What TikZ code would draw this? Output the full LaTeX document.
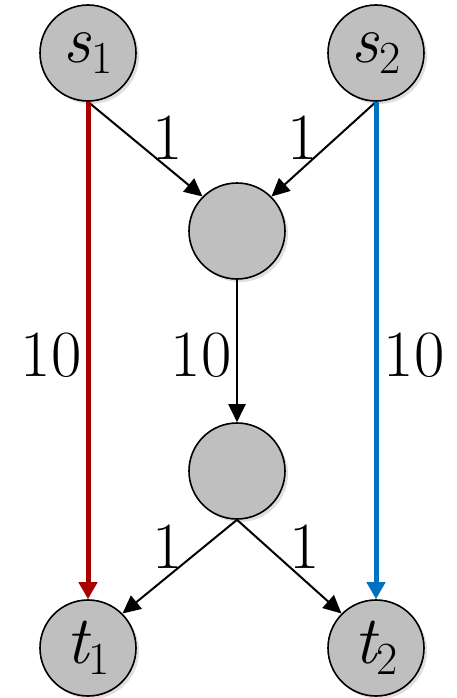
\documentclass[tikz,border=0pt]{standalone}
\usetikzlibrary{arrows.meta,shadows}
\definecolor{nodegray}{RGB}{191,191,191}
\definecolor{redpath}{RGB}{168,0,0}
\definecolor{bluepath}{RGB}{0,112,192}
\newcommand{\vlab}[2]{{\fontsize{68}{68}\selectfont\itshape #1}\raisebox{-11pt}{\fontsize{46}{46}\selectfont #2}}
\tikzset{
  vertex/.style={circle,draw=black,line width=1.6pt,fill=nodegray,minimum size=96pt,inner sep=0pt,
    drop shadow={shadow xshift=3pt,shadow yshift=-3pt,opacity=0.25}},
  lbl/.style={inner sep=0pt,font=\fontsize{66}{66}\selectfont},
  edge/.style={line width=2pt,-{Triangle[length=18pt,width=17pt]}},
  thick path/.style={line width=5pt,-{Triangle[length=17pt,width=18pt]}}
}
\begin{document}
\begin{tikzpicture}[x=1pt,y=-1pt]
\useasboundingbox (0,0) rectangle (456,698);
\node[vertex] (s1) at (88,53) {\vlab{s}{1}};
\node[vertex] (s2) at (376,53) {\vlab{s}{2}};
\node[vertex] (m1) at (237,231) {};
\node[vertex] (m2) at (237,471) {};
\node[vertex] (t1) at (88,648) {\vlab{t}{1}};
\node[vertex] (t2) at (376,648) {\vlab{t}{2}};
\draw[edge] (s1.south) -- (m1.135);
\draw[edge] (s2.south) -- (m1.45);
\draw[edge] (m1.south) -- (m2.north);
\draw[edge] (m2.south) -- (t1.45);
\draw[edge] (m2.south) -- (t2.135);
\draw[thick path,draw=redpath,fill=redpath] (s1.south) -- (t1.north);
\draw[thick path,draw=bluepath,fill=bluepath] (s2.south) -- (t2.north);
\node[lbl] (l1) at (168,138) {1};
\node[lbl] (l2) at (303,138) {1};
\node[lbl] (l3) at (51,355) {10};
\node[lbl] (l4) at (201,355) {10};
\node[lbl] (l5) at (414,355) {10};
\node[lbl] (l6) at (168,547) {1};
\node[lbl] (l7) at (305,547) {1};
\end{tikzpicture}
\end{document}
